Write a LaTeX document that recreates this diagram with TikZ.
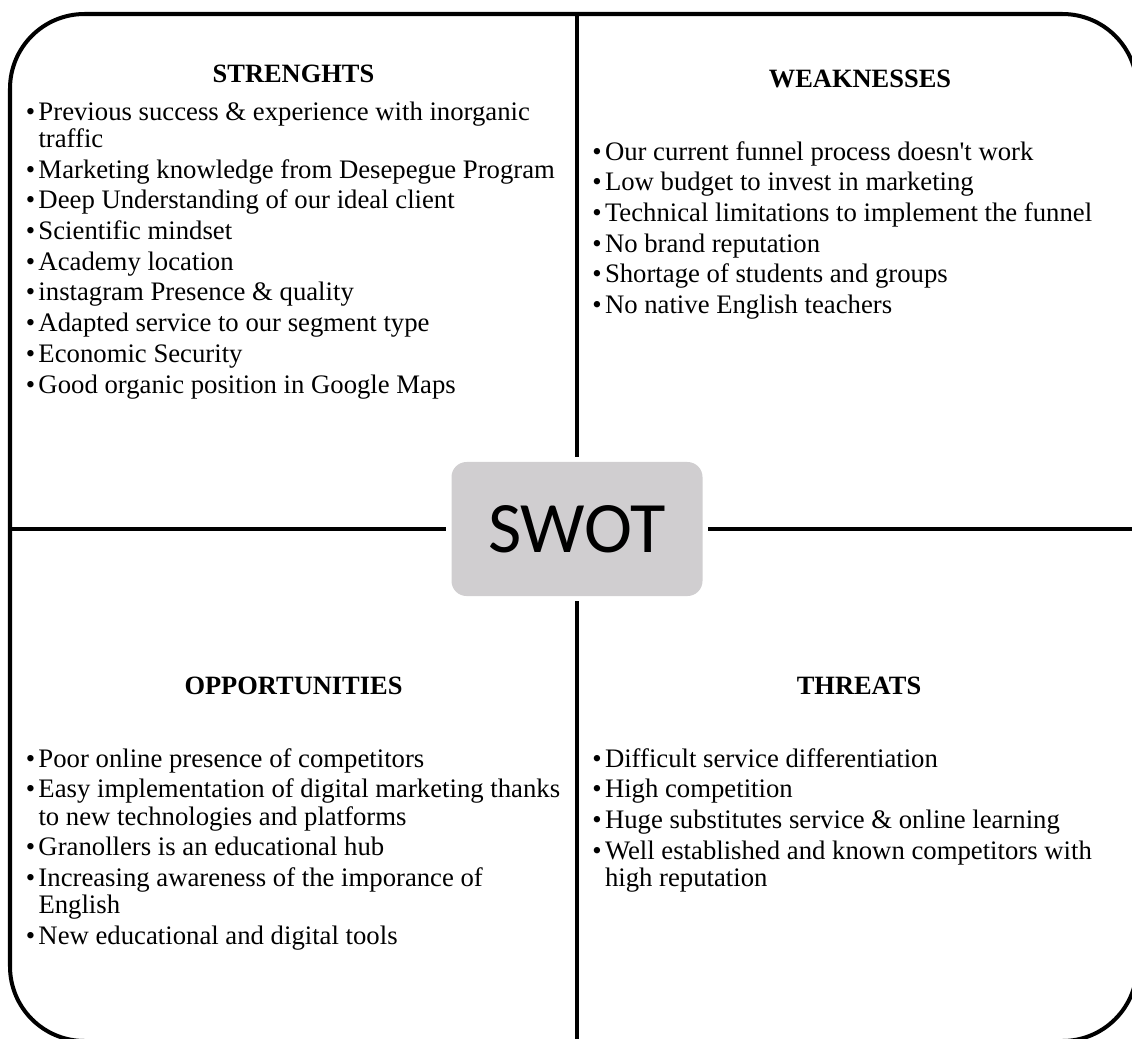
\documentclass[tikz,border=0pt]{standalone}
\usepackage{fontspec}
\setmainfont{Liberation Serif}[Ligatures=TeXOff]
\newfontfamily\swotfont{Carlito}
\definecolor{swotgray}{RGB}{208,206,208}
\newcommand\itm[1]{\par\setbox0\hbox{\textbullet\hspace{2.4pt}}\hangindent=\wd0\hangafter=1\noindent\box0#1}
\newcommand\bulletlist[1]{\vtop{\hsize=380pt\parindent=0pt\fontsize{19pt}{19.4pt}\selectfont\parskip=2.45pt#1}}
\begin{document}
\begin{tikzpicture}[x=0.025cm,y=-0.025cm,
    frame/.style={line width=2.85pt},
    divider/.style={line width=2.85pt,shorten >=3.6pt},
    swotbox/.style={fill=swotgray,rounded corners=10.7pt,minimum width=178.5pt,minimum height=95.3pt,
        font=\swotfont\fontsize{51.5pt}{52pt}\selectfont},
    heading/.style={anchor=base,inner sep=0pt,font=\fontsize{18.8pt}{20pt}\selectfont\bfseries},
    listbox/.style={anchor=base west,inner sep=0pt}]
    \useasboundingbox (0,0) rectangle (1132,1039);
    \draw[frame,rounded corners=53pt] (10,14) rectangle (1137,1041);
    \node[swotbox] (swot) at (577,529) {SWOT};
    \coordinate (top) at (577,14);
    \coordinate (bottom) at (577,1041);
    \coordinate (left) at (10,529);
    \coordinate (right) at (1137,529);
    \draw[divider] (top) -- (swot);
    \draw[divider] (bottom) -- (swot);
    \draw[divider] (left) -- (swot);
    \draw[divider] (right) -- (swot);
    \node[heading] (strengths) at (293.5,82.5) {STRENGHTS};
    \node[heading] (weaknesses) at (860,87) {WEAKNESSES};
    \node[heading] (opportunities) at (293.5,694) {OPPORTUNITIES};
    \node[heading] (threats) at (859,694) {THREATS};
    \node[listbox] (slist) at (25.5,120) {\bulletlist{%
        \itm{Previous success \& experience with inorganic\newline traffic}
        \itm{Marketing knowledge from Desepegue Program}
        \itm{Deep Understanding of our ideal client}
        \itm{Scientific mindset}
        \itm{Academy location}
        \itm{instagram Presence \& quality}
        \itm{Adapted service to our segment type}
        \itm{Economic Security}
        \itm{Good organic position in Google Maps}}};
    \node[listbox] (wlist) at (592,160) {\bulletlist{%
        \itm{Our current funnel process doesn't work}
        \itm{Low budget to invest in marketing}
        \itm{Technical limitations to implement the funnel}
        \itm{No brand reputation}
        \itm{Shortage of students and groups}
        \itm{No native English teachers}}};
    \node[listbox] (olist) at (25.5,767) {\bulletlist{%
        \itm{Poor online presence of competitors}
        \itm{Easy implementation of digital marketing thanks\newline to new technologies and platforms}
        \itm{Granollers is an educational hub}
        \itm{Increasing awareness of the imporance of\newline English}
        \itm{New educational and digital tools}}};
    \node[listbox] (tlist) at (592,767) {\bulletlist{%
        \itm{Difficult service differentiation}
        \itm{High competition}
        \itm{Huge substitutes service \& online learning}
        \itm{Well established and known competitors with\newline high reputation}}};
\end{tikzpicture}
\end{document}
